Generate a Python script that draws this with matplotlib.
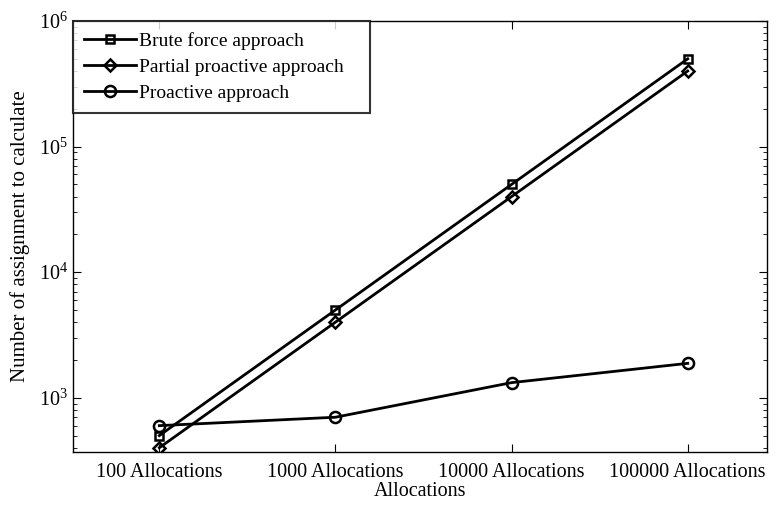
import matplotlib.pyplot as plt

plt.rcParams['font.family'] = ['Liberation Serif', 'DejaVu Serif']
plt.rcParams['mathtext.fontset'] = 'stix'

categories = ['100 Allocations', '1000 Allocations', '10000 Allocations', '100000 Allocations']
brute = [500, 5000, 50000, 500000]
partial = [400, 4000, 40000, 400000]
proactive = [600, 700, 1320, 1880]

x = range(len(categories))

fig = plt.figure(figsize=(7.78, 5.05), dpi=100)
ax = fig.add_axes([73/778, 1 - 452/505, (767-73)/778, (452-21)/505])

ax.plot(x, brute, 'k-s', lw=2, ms=6, mfc='none', mew=1.8, label='Brute force approach')
ax.plot(x, partial, 'k-D', lw=2, ms=6, mfc='none', mew=1.8, label='Partial proactive approach')
ax.plot(x, proactive, 'k-o', lw=2, ms=8, mfc='none', mew=1.8, label='Proactive approach')

ax.set_yscale('log')
ax.set_ylim(370, 1e6)
ax.set_xlim(-0.49, 3.45)
ax.set_xticks(list(x))
ax.set_xticklabels(categories, fontsize=14.5)
ax.tick_params(which='both', direction='in', top=True, right=True, labelsize=14.5)
ax.tick_params(which='major', length=6)
ax.tick_params(which='minor', length=3)
ax.tick_params(axis='x', which='both', pad=8)
ax.tick_params(axis='x', which='minor', bottom=False, top=False)
for s in ax.spines.values():
    s.set_linewidth(1.0)

ax.set_xlabel('Allocations', fontsize=14.5, labelpad=0)
ax.set_ylabel('Number of assignment to calculate', fontsize=15)
ax.yaxis.set_label_coords(-0.062, 0.5)

leg = ax.legend(loc='upper left', bbox_to_anchor=(0, 0, 0.428, 1), mode='expand',
                fontsize=14, frameon=True, fancybox=False,
                edgecolor='black', borderaxespad=0.0, handlelength=2.7,
                handletextpad=0.15, borderpad=0.55, labelspacing=0.45)
leg.get_frame().set_linewidth(1.5)

plt.savefig('out.png', dpi=100)
